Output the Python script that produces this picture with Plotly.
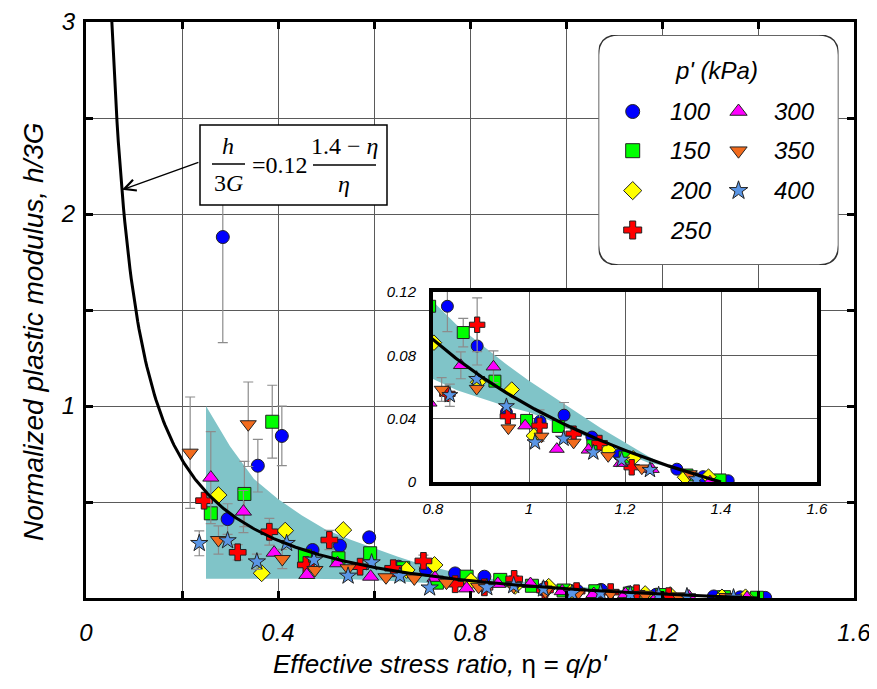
import numpy as np
import plotly.graph_objects as go

# ---------------- data ----------------
pressures = ["100", "150", "200", "250", "300", "350", "400"]

eta_100 = [0.285, 0.295, 0.358, 0.408, 0.472, 0.529, 0.590, 0.651, 0.708, 0.769,
           0.830, 0.892, 0.953, 1.023, 1.073, 1.131, 1.188, 1.308, 1.363, 1.415]
h3g_100 = [1.88, 0.411, 0.689, 0.844, 0.250, 0.273, 0.316, 0.163, 0.149, 0.128,
           0.111, 0.0859, 0.044, 0.0383, 0.0422, 0.0284, 0.0171, 0.0081, 0.0034, 0.0008]
err_100 = [0.55, 0.08, 0.137, 0.155, 0, 0, 0, 0, 0, 0,
           0.016, 0.012, 0, 0, 0.008, 0, 0, 0, 0, 0]

eta_150 = [0.260, 0.330, 0.388, 0.456, 0.526, 0.592, 0.661, 0.731, 0.793,
           0.863, 0.929, 0.995, 1.061, 1.133, 1.200, 1.329, 1.398]
h3g_150 = [0.441, 0.542, 0.918, 0.220, 0.207, 0.233, 0.155, 0.080, 0.111,
           0.0944, 0.0637, 0.0389, 0.0351, 0.0229, 0.0157, 0.0044, 0.0013]
err_150 = [0, 0.17, 0.19, 0, 0, 0, 0, 0, 0,
           0.009, 0, 0, 0, 0, 0, 0, 0]

eta_200 = [0.276, 0.366, 0.415, 0.536, 0.668, 0.726,
           0.802, 0.894, 0.964, 1.010, 1.165, 1.217, 1.325, 1.374]
h3g_200 = [0.536, 0.129, 0.351, 0.354, 0.146, 0.172,
           0.088, 0.063, 0.0584, 0.0292, 0.0203, 0.015, 0.003, 0.0034]
err_200 = [0, 0, 0, 0, 0, 0,
           0, 0, 0, 0, 0, 0, 0, 0]

eta_250 = [0.246, 0.316, 0.382, 0.458, 0.507, 0.571, 0.640, 0.703, 0.769,
           0.830, 0.892, 0.956, 1.022, 1.093, 1.147, 1.214]
h3g_250 = [0.507, 0.238, 0.345, 0.172, 0.302, 0.163, 0.155, 0.193, 0.072,
           0.0557, 0.0993, 0.0415, 0.0356, 0.0305, 0.0246, 0.0093]
err_250 = [0, 0.04, 0.07, 0, 0.05, 0, 0, 0.03, 0,
           0, 0.017, 0, 0.01, 0, 0, 0]

eta_300 = [0.260, 0.328, 0.392, 0.460, 0.524, 0.593, 0.727, 0.793,
           0.858, 0.926, 0.992, 1.058, 1.124, 1.191, 1.256, 1.377]
h3g_300 = [0.627, 0.450, 0.236, 0.120, 0.181, 0.111, 0.105, 0.050,
           0.0737, 0.0728, 0.0356, 0.0208, 0.0203, 0.0119, 0.0081, 0.0002]
err_300 = [0.24, 0.11, 0, 0, 0, 0, 0, 0,
           0.0085, 0.01, 0, 0, 0, 0, 0, 0]

eta_350 = [0.217, 0.276, 0.338, 0.409, 0.477, 0.546, 0.625, 0.684, 0.751,
           0.818, 0.891, 0.957, 1.026, 1.093, 1.165, 1.235, 1.335]
h3g_350 = [0.757, 0.302, 0.905, 0.203, 0.146, 0.155, 0.108, 0.102, 0.080,
           0.0584, 0.059, 0.034, 0.0288, 0.025, 0.0165, 0.0087, 0.0051]
err_350 = [0.29, 0.074, 0.22, 0.05, 0, 0, 0, 0, 0,
           0.0075, 0, 0, 0, 0, 0, 0, 0]

eta_400 = [0.236, 0.295, 0.356, 0.418, 0.475, 0.546, 0.595, 0.654, 0.716,
           0.835, 0.891, 0.953, 1.0125, 1.072, 1.134, 1.193, 1.252, 1.349]
h3g_400 = [0.285, 0.299, 0.189, 0.285, 0.198, 0.115, 0.184, 0.115, 0.053,
           0.0548, 0.065, 0.0478, 0.025, 0.0273, 0.0186, 0.014, 0.0076, 0.0017]
err_400 = [0.065, 0, 0.04, 0, 0, 0, 0, 0, 0,
           0.007, 0, 0, 0, 0, 0, 0, 0, 0]

# shaded scatter band
band_eta   = [0.25, 0.30, 0.35, 0.40, 0.45, 0.50, 0.55, 0.60, 0.65, 0.70, 0.75, 0.80,
              0.85, 0.90, 0.95, 1.00, 1.05, 1.10, 1.15, 1.20, 1.25, 1.28]
band_upper = [1.00, 0.79, 0.62, 0.515, 0.43, 0.355, 0.305, 0.26, 0.215, 0.175, 0.145, 0.114,
              0.099, 0.087, 0.075, 0.064, 0.054, 0.044, 0.034, 0.025, 0.016, 0.0115]
band_lower = [0.10, 0.10, 0.10, 0.10, 0.10, 0.10, 0.098, 0.094, 0.088, 0.082, 0.074, 0.065,
              0.058, 0.053, 0.048, 0.044, 0.038, 0.031, 0.025, 0.018, 0.012, 0.0105]

# model line  h/3G = A (M - eta) / eta
A_COEF, M_CRIT = 0.12, 1.4

x_ticks = [0, 0.2, 0.4, 0.6, 0.8, 1.0, 1.2, 1.4, 1.6]
x_ticktext = ["0", "", "0.4", "", "0.8", "", "1.2", "", "1.6"]
y_ticks = [0, 0.5, 1, 1.5, 2, 2.5, 3]
y_ticktext = ["", "", "1", "", "2", "", "3"]
ix_ticks = [0.8, 1.0, 1.2, 1.4, 1.6]
ix_ticktext = ["0.8", "1", "1.2", "1.4", "1.6"]
iy_ticks = [0, 0.04, 0.08, 0.12]
iy_ticktext = ["0", "0.04", "0.08", "0.12"]

series = {
    "100": (eta_100, h3g_100, err_100),
    "150": (eta_150, h3g_150, err_150),
    "200": (eta_200, h3g_200, err_200),
    "250": (eta_250, h3g_250, err_250),
    "300": (eta_300, h3g_300, err_300),
    "350": (eta_350, h3g_350, err_350),
    "400": (eta_400, h3g_400, err_400),
}
styles = {
    "100": dict(symbol="circle", color="#0000FF", size=13),
    "150": dict(symbol="square", color="#00FF00", size=13),
    "200": dict(symbol="diamond", color="#FFFF00", size=13),
    "250": dict(symbol="cross", color="#FF0000", size=14),
    "300": dict(symbol="triangle-up", color="#FF00FF", size=14),
    "350": dict(symbol="triangle-down", color="#F26B1D", size=14),
    "400": dict(symbol="star", color="#5A96E6", size=13),
}

# ---------------- layout geometry ----------------
# The page body adds an 8 px margin on every side; keep the page exactly window-sized.
OFF = 8
W, H = 877 - OFF, 689 - 2 * OFF
PX0, PX1, PY0, PY1 = 86, 854, 22, 598      # plot area in window pixels
ML, MT = PX0 - OFF, PY0 - OFF
PW, PH = PX1 - PX0, PY1 - PY0
MR, MB = W - ML - PW, H - MT - PH


def fx(px):
    return (px - PX0) / PW


def fy(py):
    return (PY1 - py) / PH


FONT = "Liberation Sans"
SERIF = "Liberation Serif"
BAND_COL = "rgb(128,196,200)"
GRID = "#5a5a5a"
ERRC = "#8c8c8c"

fig = go.Figure()

eta_min = A_COEF * M_CRIT / (3.0 + A_COEF)
eta_curve = np.linspace(eta_min, M_CRIT, 500)
h_curve = A_COEF * (M_CRIT - eta_curve) / eta_curve

for xa, ya, msize_scale, lw in (("x", "y", 1.0, 3), ("x2", "y2", 0.92, 3.2)):
    fig.add_trace(go.Scatter(
        x=band_eta + band_eta[::-1], y=band_upper + band_lower[::-1],
        fill="toself", fillcolor=BAND_COL, line=dict(width=0), mode="lines",
        xaxis=xa, yaxis=ya, showlegend=False, hoverinfo="skip"))
    for p in pressures:
        ex, ey, ee = series[p]
        st = styles[p]
        fig.add_trace(go.Scatter(
            x=ex, y=ey, mode="markers", xaxis=xa, yaxis=ya, showlegend=False,
            error_y=dict(type="data", array=ee, visible=True, color=ERRC,
                         thickness=1.2, width=5),
            marker=dict(symbol=st["symbol"], color=st["color"],
                        size=st["size"] * msize_scale,
                        line=dict(color="#222222", width=1))))
    fig.add_trace(go.Scatter(
        x=eta_curve, y=h_curve, mode="lines", xaxis=xa, yaxis=ya,
        line=dict(color="black", width=lw), showlegend=False))

# legend markers (own overlay subplot, window-pixel coordinates)
leg_x0, leg_x1, leg_y0, leg_y1 = 598.5, 838.5, 35, 265
rows = [111.5, 150.7, 190.6, 230.0]
leg_cols = [(632.7, 690.7), (738.5, 794.8)]
leg_pos = {}
for i, p in enumerate(pressures):
    c = 0 if i < 4 else 1
    r = i if i < 4 else i - 4
    leg_pos[p] = (leg_cols[c][0], leg_cols[c][1], rows[r])

for p in pressures:
    mx, tx, ry = leg_pos[p]
    st = styles[p]
    fig.add_trace(go.Scatter(
        x=[mx], y=[ry], mode="markers", xaxis="x3", yaxis="y3", showlegend=False,
        marker=dict(symbol=st["symbol"], color=st["color"], size=st["size"] + 1,
                    line=dict(color="#222222", width=1))))

annotations = []
for p in pressures:
    mx, tx, ry = leg_pos[p]
    annotations.append(dict(x=tx, y=ry, xref="x3", yref="y3", text=p, showarrow=False,
                            font=dict(family=FONT, size=24, color="black", style="italic"),
                            xanchor="center", yanchor="middle"))
annotations.append(dict(x=716, y=71, xref="x3", yref="y3", text="p' (kPa)", showarrow=False,
                        font=dict(family=FONT, size=24, color="black", style="italic"),
                        xanchor="center", yanchor="middle"))

# axis titles
annotations.append(dict(x=fx(440), y=fy(664), xref="paper", yref="paper",
                        text="<i>Effective stress ratio, </i>η<i> = q/p'</i>",
                        showarrow=False, font=dict(family=FONT, size=26, color="black"),
                        xanchor="center", yanchor="middle"))
annotations.append(dict(x=fx(33), y=fy(332), xref="paper", yref="paper",
                        text="<i>Normalized plastic modulus, h/3G</i>", textangle=-90,
                        showarrow=False, font=dict(family=FONT, size=28, color="black"),
                        xanchor="center", yanchor="middle"))

# formula box text
ffont = dict(family=SERIF, size=24, color="black")
annotations += [
    dict(x=fx(228), y=fy(146), xref="paper", yref="paper", text="<i>h</i>", showarrow=False,
         font=ffont, xanchor="center", yanchor="middle"),
    dict(x=fx(228), y=fy(183), xref="paper", yref="paper", text="3<i>G</i>", showarrow=False,
         font=ffont, xanchor="center", yanchor="middle"),
    dict(x=fx(280), y=fy(165), xref="paper", yref="paper", text="=0.12", showarrow=False,
         font=ffont, xanchor="center", yanchor="middle"),
    dict(x=fx(344), y=fy(146), xref="paper", yref="paper", text="1.4 − <i>η</i>", showarrow=False,
         font=ffont, xanchor="center", yanchor="middle"),
    dict(x=fx(344), y=fy(184), xref="paper", yref="paper", text="<i>η</i>", showarrow=False,
         font=ffont, xanchor="center", yanchor="middle"),
]
# arrow to curve
eta_arrow = 0.0748
annotations.append(dict(x=eta_arrow, y=A_COEF * (M_CRIT - eta_arrow) / eta_arrow,
                        xref="x", yref="y", ax=78, ay=-28, axref="pixel", ayref="pixel",
                        text="", showarrow=True, arrowhead=5, arrowsize=1.6,
                        arrowwidth=1.4, arrowcolor="black"))

shapes = [
    dict(type="rect", xref="paper", yref="paper", x0=fx(200), x1=fx(387), y0=fy(205), y1=fy(125),
         fillcolor="white", line=dict(color="black", width=1.5), layer="above"),
    dict(type="line", xref="paper", yref="paper", x0=fx(212), x1=fx(245), y0=fy(164), y1=fy(164),
         line=dict(color="black", width=1.3), layer="above"),
    dict(type="line", xref="paper", yref="paper", x0=fx(313), x1=fx(376), y0=fy(165), y1=fy(165),
         line=dict(color="black", width=1.3), layer="above"),
]
# rounded legend frame
r = 20
path = (f"M {leg_x0 + r},{leg_y0} L {leg_x1 - r},{leg_y0} Q {leg_x1},{leg_y0} {leg_x1},{leg_y0 + r} "
        f"L {leg_x1},{leg_y1 - r} Q {leg_x1},{leg_y1} {leg_x1 - r},{leg_y1} "
        f"L {leg_x0 + r},{leg_y1} Q {leg_x0},{leg_y1} {leg_x0},{leg_y1 - r} "
        f"L {leg_x0},{leg_y0 + r} Q {leg_x0},{leg_y0} {leg_x0 + r},{leg_y0} Z")
shapes.append(dict(type="path", xref="x3", yref="y3", path=path,
                   line=dict(color="#333333", width=1.5), layer="above"))

tickfont = dict(family=FONT, size=24, color="black", style="italic")
itickfont = dict(family=FONT, size=15, color="black", style="italic")

fig.update_layout(
    width=W, height=H, margin=dict(l=ML, r=MR, t=MT, b=MB, pad=0, autoexpand=False),
    paper_bgcolor="white", plot_bgcolor="white", showlegend=False,
    xaxis=dict(domain=[0, 1], range=[0, 1.6], tickvals=x_ticks, ticktext=x_ticktext,
               showgrid=True, gridcolor=GRID, gridwidth=1, zeroline=False,
               showline=True, linecolor="black", linewidth=3, mirror="allticks",
               ticks="inside", ticklen=7, tickwidth=2.5, tickcolor="black",
               tickfont=tickfont, ticklabelstandoff=11),
    yaxis=dict(domain=[0, 1], range=[0, 3], tickvals=y_ticks, ticktext=y_ticktext,
               showgrid=True, gridcolor=GRID, gridwidth=1, zeroline=False,
               showline=True, linecolor="black", linewidth=3, mirror="allticks",
               ticks="inside", ticklen=7, tickwidth=2.5, tickcolor="black",
               tickfont=tickfont, ticklabelstandoff=3),
    xaxis2=dict(domain=[fx(433), fx(817)], range=[0.8, 1.6], anchor="y2",
                tickvals=ix_ticks, ticktext=ix_ticktext,
                showgrid=True, gridcolor=GRID, gridwidth=1, zeroline=False,
                showline=True, linecolor="black", linewidth=4, mirror=True,
                ticks="", tickfont=itickfont, ticklabelstandoff=10),
    yaxis2=dict(domain=[fy(482), fy(292)], range=[0, 0.12], anchor="x2",
                tickvals=iy_ticks, ticktext=iy_ticktext,
                showgrid=True, gridcolor=GRID, gridwidth=1, zeroline=False,
                showline=True, linecolor="black", linewidth=4, mirror=True,
                ticks="", tickfont=itickfont, ticklabelstandoff=10),
    xaxis3=dict(domain=[fx(leg_x0), fx(leg_x1)], range=[leg_x0, leg_x1], anchor="y3",
                visible=False, fixedrange=True),
    yaxis3=dict(domain=[fy(leg_y1), fy(leg_y0)], range=[leg_y1, leg_y0], anchor="x3",
                visible=False, fixedrange=True),
    annotations=annotations, shapes=shapes,
)

fig.write_html("out.html")
